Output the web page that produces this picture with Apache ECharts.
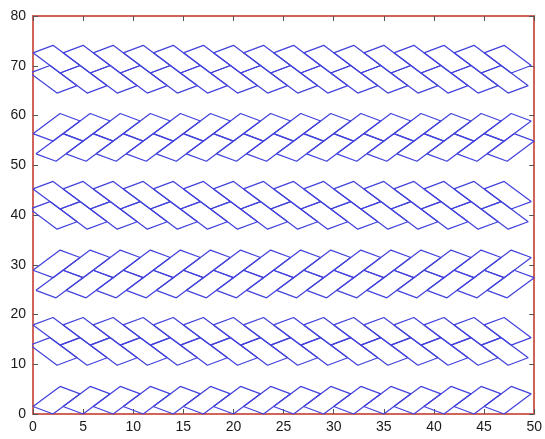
<!DOCTYPE html>
<html><head><meta charset="utf-8">
<script src="https://cdn.jsdelivr.net/npm/echarts@6/dist/echarts.min.js"></script>
<style>html,body{margin:0;padding:0;background:#fff}#c{width:545px;height:439px}</style>
</head><body><div id="c"></div>
<script>
// brick start positions (left corner x) along each layer
const brickStartX = [0, 3, 6, 9, 12, 15, 18, 21, 24, 27, 30, 33, 36, 39, 42, 45];
// rising bricks (long edge up-right): left-corner y and x shift of each layer
const risingLayerY = [1.5, 24.85, 28.9, 52.3, 56.35];
const risingLayerShift = [0, 0.3, 0, 0.3, 0];
// falling bricks (long edge down-right)
const fallingLayerY = [13.85, 17.9, 41.2, 45.25, 68.55, 72.6];
const fallingLayerShift = [-0.3, 0, -0.3, 0, -0.3, 0];
// brick edge vectors (data units)
const longEdge = [2.7, 4.05];
const shortEdge = [2.0, 1.5];
const xTicks = [0, 5, 10, 15, 20, 25, 30, 35, 40, 45, 50];
const yTicks = [0, 10, 20, 30, 40, 50, 60, 70, 80];

const lineColor = '#4343dc';
const series = [];
function addBrick(x, y, rising) {
  const L = [x, y];
  const B = rising ? [x + shortEdge[0], y - shortEdge[1]] : [x + longEdge[0], y - longEdge[1]];
  const T = rising ? [x + longEdge[0], y + longEdge[1]] : [x + shortEdge[0], y + shortEdge[1]];
  const R = [B[0] + T[0] - x, B[1] + T[1] - y];
  series.push({
    type: 'line', data: [L, B, R, T, L], symbol: 'none', silent: true, clip: true,
    lineStyle: { color: lineColor, width: 1.25 }, animation: false
  });
}
risingLayerY.forEach((y, i) => brickStartX.forEach(x => addBrick(x + risingLayerShift[i], y, true)));
fallingLayerY.forEach((y, i) => brickStartX.forEach(x => addBrick(x + fallingLayerShift[i], y, false)));

const frame = '#d0645a';
const tickStyle = { show: true, inside: true, length: 5, lineStyle: { color: '#555' } };
const font = 'Liberation Sans, Arial, sans-serif';
const chart = echarts.init(document.getElementById('c'), null, { renderer: 'canvas' });
chart.setOption({
  animation: false,
  grid: { left: 33, right: 7, top: 16, bottom: 25 },
  xAxis: [
    { type: 'value', min: 0, max: 50, interval: 5, position: 'bottom',
      axisLine: { show: true, onZero: false, lineStyle: { color: frame, width: 2 } },
      axisTick: tickStyle, splitLine: { show: false },
      axisLabel: { color: '#1a1a1a', fontSize: 14, fontFamily: font, margin: 6,
        formatter: v => xTicks.includes(v) ? String(v) : '' } },
    { type: 'value', min: 0, max: 50, interval: 5, position: 'top',
      axisLine: { show: true, onZero: false, lineStyle: { color: frame, width: 2 } },
      axisTick: tickStyle, splitLine: { show: false }, axisLabel: { show: false } }
  ],
  yAxis: [
    { type: 'value', min: 0, max: 80, interval: 10, position: 'left',
      axisLine: { show: true, onZero: false, lineStyle: { color: frame, width: 2 } },
      axisTick: tickStyle, splitLine: { show: false },
      axisLabel: { color: '#1a1a1a', fontSize: 14, fontFamily: font, margin: 7,
        formatter: v => yTicks.includes(v) ? String(v) : '' } },
    { type: 'value', min: 0, max: 80, interval: 10, position: 'right',
      axisLine: { show: true, onZero: false, lineStyle: { color: frame, width: 2 } },
      axisTick: tickStyle, splitLine: { show: false }, axisLabel: { show: false } }
  ],
  series: series
});
</script></body></html>
